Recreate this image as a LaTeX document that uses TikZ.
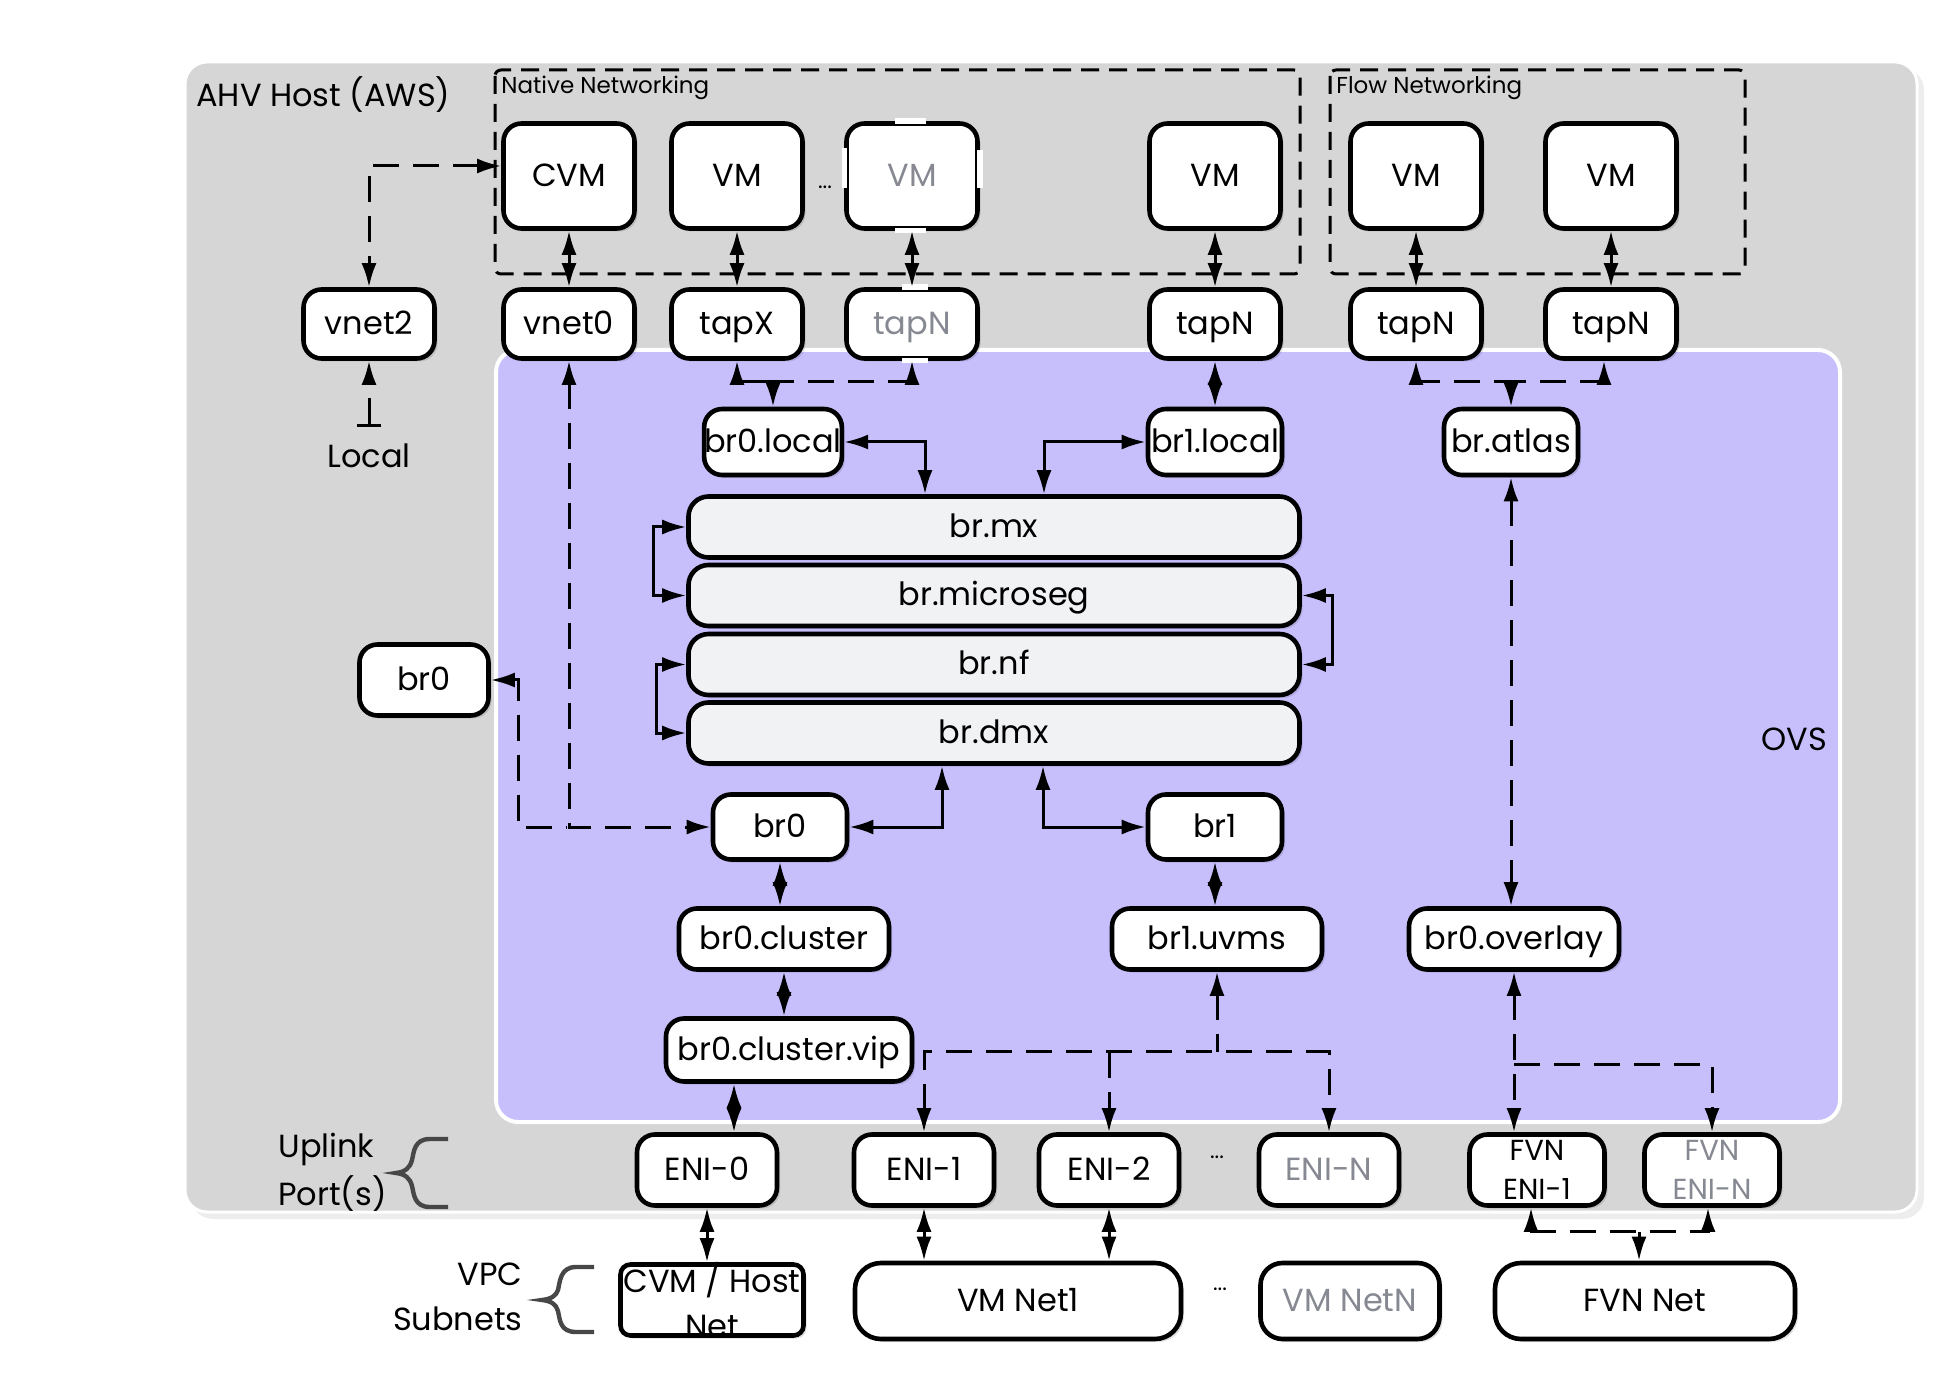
\documentclass[tikz,border=0pt]{standalone}
\usepackage{fontspec}
\setmainfont{Poppins}
\usetikzlibrary{arrows.meta,calc,shadows}
\definecolor{hostgray}{HTML}{D6D6D6}
\definecolor{ovsfill}{HTML}{C6BFFC}
\definecolor{barfill}{HTML}{F1F2F4}
\definecolor{dimtext}{HTML}{868991}
\definecolor{bracec}{HTML}{474747}
\begin{document}
\begin{tikzpicture}[x=0.5pt,y=-0.5pt,
  >={Latex[length=12pt,width=7.5pt]},
  box/.style={draw=black, line width=2.3pt, fill=white, rounded corners=9pt, inner sep=0pt,
    font=\fontsize{16}{19}\selectfont, text height=10.5pt, text depth=0pt,
    drop shadow={shadow xshift=1.5pt, shadow yshift=-1.5pt, fill=black, opacity=0.12}},
  vmsz/.style={minimum width=65.5pt, minimum height=52.5pt},
  tapsz/.style={minimum width=65.5pt, minimum height=34.5pt},
  brsz/.style={minimum width=67pt, minimum height=33pt},
  barsz/.style={minimum width=305.5pt, minimum height=30.5pt, fill=barfill, rounded corners=10pt},
  midsz/.style={minimum width=105pt, minimum height=30.5pt},
  enisz/.style={minimum width=70pt, minimum height=35.5pt},
  fvnsz/.style={minimum width=67.5pt, minimum height=35.5pt, align=center,
    font=\fontsize{14.5}{19.5}\selectfont, text height=, text depth=},
  lbl/.style={font=\fontsize{16}{22.5}\selectfont, inner sep=0pt},
  small/.style={font=\fontsize{11.5}{14}\selectfont, inner sep=0pt},
  dotlbl/.style={font=\fontsize{11}{13}\selectfont, inner sep=0pt},
  conn/.style={line width=1.5pt, draw=black},
  dconn/.style={conn, dash pattern=on 13pt off 7pt},
  grpbox/.style={line width=1.5pt, dash pattern=on 9pt off 5pt, rounded corners=3pt},
  bracestyle/.style={draw=bracec, line width=2.2pt},
  gapline/.style={white, line width=2.7pt}
]
\useasboundingbox (0,0) rectangle (1960,1379);

% host background
\fill[black!7, rounded corners=11pt] (191,68) rectangle (1924,1219);
\draw[fill=hostgray, draw=white, line width=1.5pt, rounded corners=11pt] (185,62) rectangle (1917,1212);
% OVS background
\draw[fill=ovsfill, draw=white, line width=2pt, rounded corners=11pt] (496,350) rectangle (1840,1122);

% group boxes
\draw[grpbox] (495,70) rectangle (1300,274);
\draw[grpbox] (1330,70) rectangle (1745,274);

% labels
\node[lbl, anchor=west] (ahv) at (196,95) {AHV Host (AWS)};
\node[small, anchor=west] (nnlbl) at (501,88) {Native Networking};
\node[small, anchor=west] (fnlbl) at (1336,88) {Flow Networking};
\node[lbl] (local) at (369,456) {Local};
\node[lbl] (ovslbl) at (1794,739) {OVS};
\node[lbl, anchor=west] (uplink) at (278,1149) {Uplink};
\node[lbl, anchor=west] (ports) at (278,1194) {Port(s)};
\node[lbl, anchor=east] (vpc) at (523,1274) {VPC};
\node[lbl, anchor=east] (subnets) at (523,1319) {Subnets};
\node[dotlbl] (dots1) at (825,187) {...};
\node[dotlbl] (dots2) at (1217,1157) {...};
\node[dotlbl] (dots3) at (1220,1289) {...};

% braces
\draw[bracestyle] (448,1139) -- (430,1139) .. controls (414,1139) and (414,1152) .. (412,1160)
  .. controls (410,1168) and (405,1172) .. (396,1173)
  .. controls (405,1174) and (410,1178) .. (412,1186)
  .. controls (414,1194) and (414,1207) .. (430,1207) -- (448,1207);
\draw[bracestyle] (594,1267) -- (576,1267) .. controls (560,1267) and (560,1282) .. (558,1290)
  .. controls (556,1296) and (551,1299) .. (542,1300)
  .. controls (551,1301) and (556,1304) .. (558,1311)
  .. controls (560,1320) and (560,1332) .. (576,1332) -- (594,1332);

% VMs
\node[box, vmsz] (cvm) at (569,176) {CVM};
\node[box, vmsz] (vm1) at (737,176) {VM};
\node[box, vmsz, text=dimtext] (vmg) at (912,176) {VM};
\node[box, vmsz] (vm2) at (1215,176) {VM};
\node[box, vmsz] (vmf1) at (1416,176) {VM};
\node[box, vmsz] (vmf2) at (1611,176) {VM};
% gaps in the dimmed VM border
\draw[gapline] ($(vmg.north)+(-17,0)$) -- ($(vmg.north)+(14,0)$);
\draw[gapline] ($(vmg.south)+(-17,0)$) -- ($(vmg.south)+(14,0)$);
\draw[gapline] ($(vmg.west)+(0,-28)$) -- ($(vmg.west)+(0,12)$);
\draw[gapline] ($(vmg.east)+(0,-26)$) -- ($(vmg.east)+(0,12)$);

% taps
\node[box, tapsz] (vnet2) at (369,324) {vnet2};
\node[box, tapsz] (vnet0) at (569,324) {vnet0};
\node[box, tapsz] (tapx) at (737,324) {tapX};
\node[box, tapsz, text=dimtext] (tapg) at (912,324) {tapN};
\node[box, tapsz] (tap2) at (1215,324) {tapN};
\node[box, tapsz] (tapf1) at (1416,324) {tapN};
\node[box, tapsz] (tapf2) at (1611,324) {tapN};
\draw[gapline] ($(tapg.north)+(-10,0)$) -- ($(tapg.north)+(16,0)$);
\draw[gapline] ($(tapg.south)+(-10,0)$) -- ($(tapg.south)+(16,0)$);

% local bridges
\node[box, brsz] (br0local) at (773,442) {br0.local};
\node[box, brsz] (br1local) at (1215,442) {br1.local};
\node[box, brsz] (bratlas) at (1511,442) {br.atlas};

% bars
\node[box, barsz] (brmx) at (994,527) {br.mx};
\node[box, barsz] (brms) at (994,595.5) {br.microseg};
\node[box, barsz] (brnf) at (994,664.5) {br.nf};
\node[box, barsz] (brdmx) at (994,733) {br.dmx};

% br0 / br1
\node[box, minimum width=64.5pt, minimum height=35.5pt] (br0out) at (424,680) {br0};
\node[box, minimum width=67pt, minimum height=32.5pt] (br0) at (780,827) {br0};
\node[box, minimum width=67pt, minimum height=32.5pt] (br1) at (1215,827) {br1};

\node[box, midsz] (br0cluster) at (784,939) {br0.cluster};
\node[box, midsz] (br1uvms) at (1217,939) {br1.uvms};
\node[box, midsz] (br0overlay) at (1514,939) {br0.overlay};
\node[box, minimum width=123pt, minimum height=31.5pt] (vip) at (789,1050) {br0.cluster.vip};

% ENIs
\node[box, enisz] (eni0) at (707,1170) {ENI-0};
\node[box, enisz] (eni1) at (924,1170) {ENI-1};
\node[box, enisz] (eni2) at (1109,1170) {ENI-2};
\node[box, enisz, text=dimtext] (enin) at (1329,1170) {ENI-N};
\node[box, fvnsz] (fvn1) at (1537,1170) {FVN\\ENI-1};
\node[box, fvnsz, text=dimtext] (fvnn) at (1712,1170) {FVN\\ENI-N};

% subnets
\node[box, minimum width=91.5pt, minimum height=35.5pt, rounded corners=5pt] (cvmnet) at (712,1300) {};
\node[lbl, align=center] (cvmnettxt) at (712,1300) {CVM / Host\\Net};
\node[box, minimum width=163pt, minimum height=38pt, rounded corners=13pt] (vmnet1) at (1018,1301) {VM Net1};
\node[box, minimum width=89.5pt, minimum height=38pt, rounded corners=11pt, text=dimtext] (vmnetn) at (1350,1301) {VM NetN};
\node[box, minimum width=150pt, minimum height=38pt, rounded corners=13pt] (fvnnet) at (1645,1301) {FVN Net};

% junction coordinates
\coordinate (j1) at ($(br0local.north)+(0,-25)$);
\coordinate (j2) at ($(bratlas.north)+(0,-25)$);
\coordinate (j3) at ($(br1uvms.south)+(0,80)$);
\coordinate (j4) at ($(br0overlay.south)+(0,93)$);
\coordinate (j5) at ($(fvnnet.north)+(-6,-29)$);
\coordinate (lbar) at ($(local.north)+(0,-17)$);
\coordinate (vipx) at ($(vip.south)+(-55,0)$);
\coordinate (mxa) at ($(brmx.north)+(-69,0)$);
\coordinate (mxb) at ($(brmx.north)+(50,0)$);
\coordinate (dmxa) at ($(brdmx.south)+(-52,0)$);
\coordinate (dmxb) at ($(brdmx.south)+(49,0)$);
\coordinate (f2s) at ($(tapf2.south)+(-7,0)$);

% VM <-> tap
\draw[conn,<->] (cvm) -- (vnet0);
\draw[conn,<->] (vm1) -- (tapx);
\draw[conn,<->] (vmg) -- (tapg);
\draw[conn,<->] (vm2) -- (tap2);
\draw[conn,<->] (vmf1) -- (tapf1);
\draw[conn,<->] (vmf2) -- (tapf2);

% vnet2
\draw[dconn,<->] ($(cvm.west)+(0,-10)$) -| (vnet2.north);
\draw[dconn,{Bar[width=12pt]}->] (lbar) -- (vnet2.south);

% taps to local bridges
\draw[conn,<-] (tapx.south) |- (j1);
\draw[dconn,<-] (tapg.south) |- (j1);
\draw[conn,->] (j1) -- (br0local.north);
\draw[conn,<->] (tap2) -- (br1local);
\draw[dconn,<-] (tapf1.south) |- (j2);
\draw[dconn,<-] (f2s) |- (j2);
\draw[conn,->] (j2) -- (bratlas.north);

% local bridges to br.mx
\draw[conn,<->] (br0local.east) -| (mxa);
\draw[conn,<->] (br1local.west) -| (mxb);

% bar loops
\draw[conn,<->] (brmx.west) -- ++(-33,0) |- (brms.west);
\draw[conn,<->] (brms.east) -- ++(31,0) |- (brnf.east);
\draw[conn,<->] (brnf.west) -- ++(-30,0) |- (brdmx.west);

% br.atlas to br0.overlay
\draw[dconn,<->] (bratlas.south) -- (br0overlay.north -| bratlas.south);

% vnet0 / br0out to br0
\draw[dconn,<->] (vnet0.south) |- (br0.west);
\draw[dconn,<-] (br0out.east) -| ($(br0.west)+(-192,0)$) -- ($(br0.west)+(-144,0)$);

% br0/br1 to br.dmx
\draw[conn,<->] (br0.east) -| (dmxa);
\draw[conn,<->] (dmxb) |- (br1.west);

% vertical chains
\draw[conn,<->] (br0.south) -- (br0.south |- br0cluster.north);
\draw[conn,<->] (br0cluster.south) -- (br0cluster.south |- vip.north);
\draw[conn,<->] (vipx) -- (vipx |- eni0.north);
\draw[conn,<->] (br1.south) -- (br1.south |- br1uvms.north);

% br1.uvms to ENIs
\draw[dconn,<-] (br1uvms.south) -- (j3);
\draw[dconn,<->] (eni1.north) |- (j3) -| (enin.north);
\draw[dconn,->] (eni2.north |- j3) -- (eni2.north);

% br0.overlay to FVN ENIs
\draw[dconn,<->] (br0overlay.south) -- (br0overlay.south |- fvn1.north);
\draw[dconn,->] (j4) -| (fvnn.north);

% ENIs to subnets
\draw[conn,<->] (eni0.south) -- (eni0.south |- cvmnet.north);
\draw[conn,<->] (eni1.south) -- (eni1.south |- vmnet1.north);
\draw[conn,<->] (eni2.south) -- (eni2.south |- vmnet1.north);
\draw[dconn,<->] ($(fvn1.south)+(-6,0)$) |- (j5) -| ($(fvnn.south)+(-4,0)$);
\draw[conn,->] (j5) -- (j5 |- fvnnet.north);
\end{tikzpicture}
\end{document}
